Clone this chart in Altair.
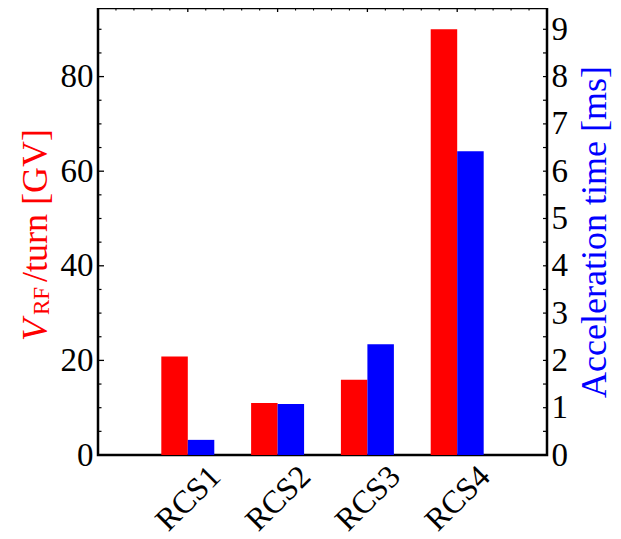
import altair as alt
import pandas as pd

# ---- data ----
categories = ["RCS1", "RCS2", "RCS3", "RCS4"]
positions = [1, 2, 3, 4]
v_rf = [20.8, 11.0, 15.9, 90.0]          # V_RF/turn [GV]
acc_time = [0.32, 1.08, 2.34, 6.42]      # acceleration time [ms]

left_tick_labels = [0, 20, 40, 60, 80]
right_tick_labels = [0, 1, 2, 3, 4, 5, 6, 7, 8, 9]
left_minor = [0, 5, 10, 15, 20, 25, 30, 35, 40, 45, 50, 55, 60, 65, 70, 75, 80, 85, 90]
top_ticks = [0.2, 0.4, 0.6, 0.8, 1, 1.2, 1.4, 1.6, 1.8, 2, 2.2, 2.4, 2.6, 2.8, 3,
             3.2, 3.4, 3.6, 3.8, 4, 4.2, 4.4, 4.6, 4.8]

W, H = 449, 447
FONT = "Liberation Serif"
RED, BLUE = "#ff0000", "#0000ff"
BW = 0.295  # bar width in x units

df = pd.DataFrame({"cat": categories, "pos": positions, "vrf": v_rf, "t": acc_time})

xscale = alt.Scale(domain=[0, 5], nice=False, zero=False)
yl = alt.Scale(domain=[0, 94.5], nice=False, zero=True)
yr = alt.Scale(domain=[0, 9.45], nice=False, zero=True)

label_expr = "['', " + ", ".join(f"'{c}'" for c in categories) + "][datum.value]"

x_axis = alt.Axis(values=positions, labelExpr=label_expr, labelAngle=315,
                  labelAlign="center", labelBaseline="middle", labelPadding=43,
                  labelFont=FONT, labelFontSize=32, labelColor="black",
                  ticks=False, tickSize=0, domain=False, grid=False, title=None,
                  labelOverlap=False)

base = alt.Chart(df)

red = base.transform_calculate(x0=f"datum.pos - {BW}").mark_bar(color=RED).encode(
    x=alt.X("x0:Q", scale=xscale, axis=x_axis),
    x2="pos:Q",
    y=alt.Y("vrf:Q", scale=yl,
            axis=alt.Axis(orient="left", values=left_tick_labels, labelFont=FONT,
                          labelFontSize=33, labelColor="black", labelPadding=5,
                          ticks=False, tickSize=0, domain=False, grid=False, title=None)),
    y2=alt.datum(0),
)

blue = base.transform_calculate(x1=f"datum.pos + {BW}").mark_bar(color=BLUE).encode(
    x=alt.X("pos:Q", scale=xscale, axis=None),
    x2="x1:Q",
    y=alt.Y("t:Q", scale=yr,
            axis=alt.Axis(orient="right", values=right_tick_labels, labelFont=FONT,
                          labelFontSize=33, labelColor="black", labelPadding=4,
                          ticks=False, tickSize=0, domain=False, grid=False, title=None)),
    y2=alt.datum(0),
)

lt = alt.Chart(pd.DataFrame({"v": left_minor}))
left_major = lt.transform_filter("datum.v % 20 == 0").mark_rule(color="black", strokeWidth=1.3).encode(
    y=alt.Y("v:Q", scale=yl, axis=None), x=alt.value(0), x2=alt.value(6))
left_min = lt.transform_filter("datum.v % 20 != 0").mark_rule(color="black", strokeWidth=1.2).encode(
    y=alt.Y("v:Q", scale=yl, axis=None), x=alt.value(0), x2=alt.value(3.5))
right_t = lt.mark_rule(color="black", strokeWidth=1.2).encode(
    y=alt.Y("v:Q", scale=yl, axis=None), x=alt.value(W), x2=alt.value(W - 4))

tt = alt.Chart(pd.DataFrame({"u": top_ticks}))
top_major = tt.transform_filter("abs(datum.u - round(datum.u)) < 0.01").mark_rule(color="black", strokeWidth=1.3).encode(
    x=alt.X("u:Q", scale=xscale, axis=None), y=alt.value(0), y2=alt.value(4))
top_min = tt.transform_filter("abs(datum.u - round(datum.u)) >= 0.01").mark_rule(color="black", strokeWidth=1.1).encode(
    x=alt.X("u:Q", scale=xscale, axis=None), y=alt.value(0), y2=alt.value(2.5))

def txt(s, x, y, size, color, style="normal", align="left"):
    return alt.Chart(pd.DataFrame({"s": [s]})).mark_text(
        font=FONT, fontSize=size, fontStyle=style, color=color, angle=270,
        align=align, baseline="alphabetic").encode(
        text="s:N", x=alt.value(x), y=alt.value(y))

t_v = txt("V", -51, 333, 36, RED, style="italic")
t_rf = txt("RF", -49.5, 307, 23, RED)
t_rest = txt("/turn [GV]", -51, 274, 36, RED)
t_right = txt("Acceleration time [ms]", 508, 224, 36, BLUE, align="center")

chart = alt.layer(
    red, blue, left_major, left_min, right_t, top_major, top_min,
    t_v, t_rf, t_rest, t_right
).resolve_scale(y="independent").resolve_axis(x="independent").properties(
    width=W, height=H,
    autosize=alt.AutoSizeParams(type="none"),
    padding={"left": 90, "top": 0, "right": 66, "bottom": 84},
    background="white",
).configure_view(stroke="black", strokeWidth=2.5)

chart.save("out.html", embed_options={"renderer": "svg", "actions": False})
